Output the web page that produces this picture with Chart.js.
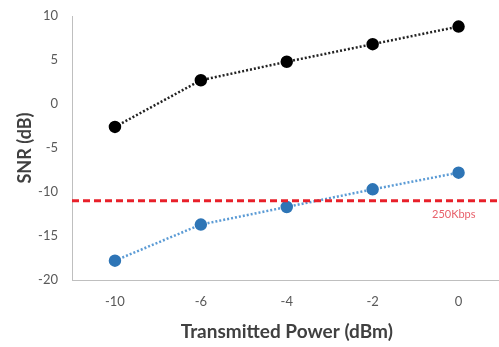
<!DOCTYPE html>
<html><head><meta charset="utf-8">
<script src="https://cdn.jsdelivr.net/npm/chart.js@4/dist/chart.umd.min.js"></script>
<style>html,body{margin:0;padding:0;background:#fff;overflow:hidden}#w{width:509px;height:347px}</style>
</head><body><div id="w"><canvas id="c"></canvas></div>
<script>
const categories = ['-10', '-6', '-4', '-2', '0'];
const snrUpper = [-2.6, 2.7, 4.8, 6.8, 8.8];
const snrLower = [-17.8, -13.7, -11.7, -9.7, -7.8];
const thresholdValue = [-11];
const thresholdLabel = ['250Kbps'];

const thresholdPlugin = {
  id: 'threshold',
  afterDatasetsDraw(chart) {
    const {ctx, chartArea, scales} = chart;
    const y = scales.y.getPixelForValue(thresholdValue[0]);
    ctx.save();
    ctx.strokeStyle = '#E8202A';
    ctx.lineWidth = 3;
    ctx.setLineDash([7, 4]);
    ctx.beginPath();
    ctx.moveTo(chartArea.left, y);
    ctx.lineTo(chart.width, y);
    ctx.stroke();
    ctx.setLineDash([]);
    ctx.fillStyle = '#E8606A';
    ctx.font = '11px Lato, sans-serif';
    ctx.textAlign = 'left';
    ctx.textBaseline = 'middle';
    ctx.fillText(thresholdLabel[0], 432, y + 14);
    ctx.restore();
  }
};

new Chart(document.getElementById('c'), {
  type: 'line',
  data: {
    labels: categories,
    datasets: [
      {data: snrUpper, borderColor: '#222', borderWidth: 2.5, borderDash: [2, 2],
       pointRadius: 5, pointBackgroundColor: '#000', pointBorderColor: '#000', tension: 0},
      {data: snrLower, borderColor: '#5B9BD5', borderWidth: 2.5, borderDash: [2, 2],
       pointRadius: 5, pointBackgroundColor: '#2E75B6', pointBorderColor: '#2E75B6', tension: 0}
    ]
  },
  options: {
    responsive: true, maintainAspectRatio: false, animation: false,
    layout: {padding: {top: 16, right: 0, left: 0, bottom: 0}},
    plugins: {legend: {display: false}, tooltip: {enabled: false}},
    scales: {
      x: {
        offset: true,
        grid: {display: false, drawTicks: false},
        border: {color: '#BFBFBF', width: 1},
        ticks: {color: '#595959', font: {size: 13, family: 'Lato, sans-serif'}, padding: 14},
        title: {display: true, text: 'Transmitted Power (dBm)', color: '#404040',
                font: {size: 19, weight: 'bold', family: 'Lato, sans-serif'}, padding: {top: 4}},
        afterFit(s) { s.height = 67; s.paddingLeft = 0; s.paddingRight = 0; }
      },
      y: {
        min: -20, max: 10,
        grid: {display: false, drawTicks: false},
        border: {color: '#BFBFBF', width: 1},
        ticks: {stepSize: 5, color: '#595959', font: {size: 13, family: 'Lato, sans-serif'}, padding: 14},
        title: {display: true, text: 'SNR (dB)', color: '#404040',
                font: {size: 18, weight: 'bold', family: 'Lato, sans-serif'}, padding: {top: 14, bottom: 0}},
        afterFit(s) { s.width = 72; s.paddingTop = 0; s.paddingBottom = 0; }
      }
    }
  },
  plugins: [thresholdPlugin]
});
</script></body></html>
